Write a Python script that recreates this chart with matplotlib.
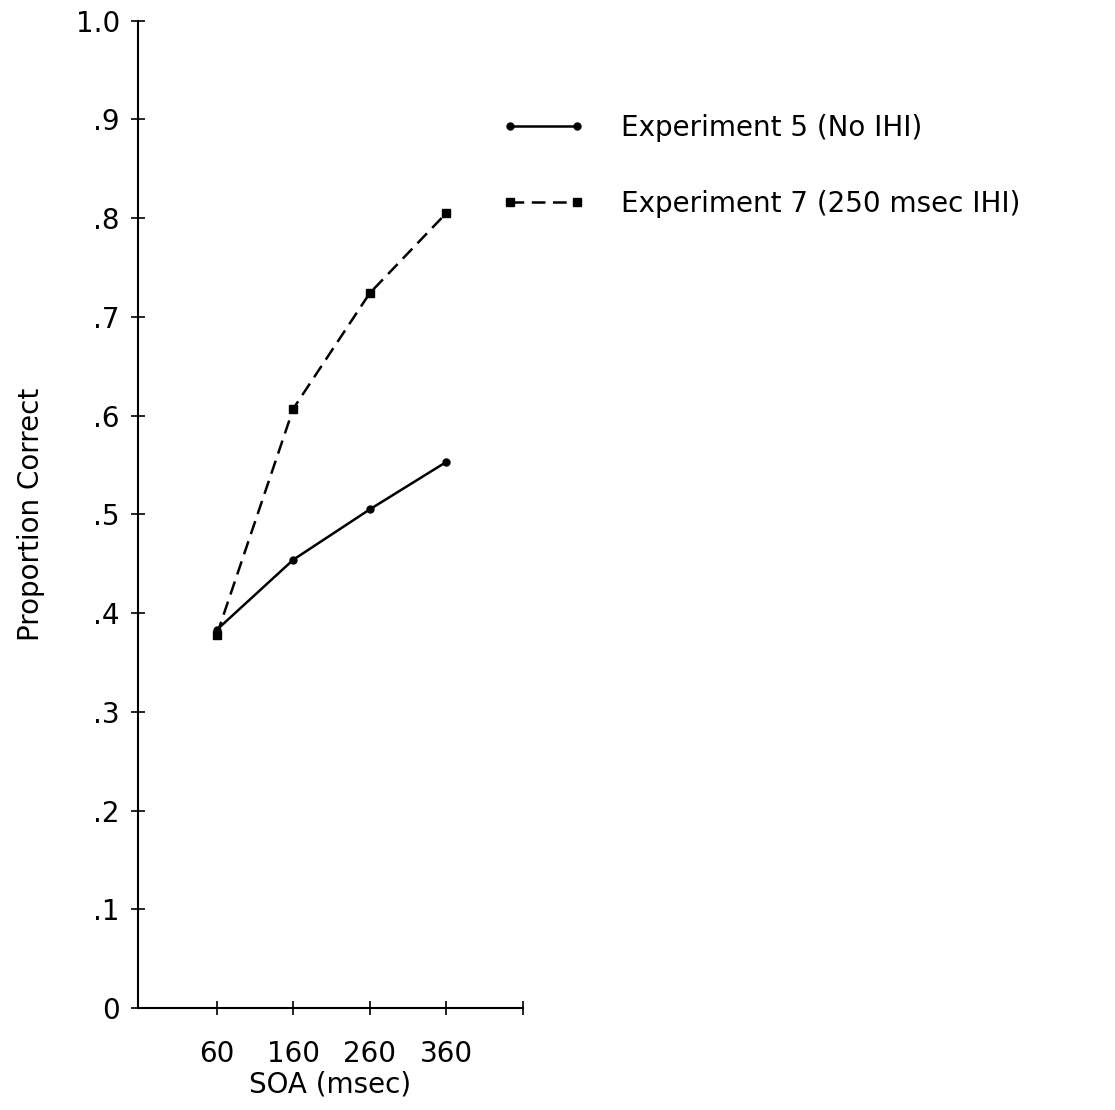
import matplotlib.pyplot as plt

# data
soa = [60, 160, 260, 360]
exp5 = [0.383, 0.454, 0.505, 0.553]
exp7 = [0.378, 0.607, 0.724, 0.805]
yticks = [0, .1, .2, .3, .4, .5, .6, .7, .8, .9, 1.0]
ylabels = ['0', '.1', '.2', '.3', '.4', '.5', '.6', '.7', '.8', '.9', '1.0']
xticks = [60, 160, 260, 360, 460]
xlabels = ['60', '160', '260', '360', '']

plt.rcParams['font.family'] = 'DejaVu Sans'
fs = 20

fig = plt.figure(figsize=(11.15, 11.1), dpi=100)
ax = fig.add_axes([0.1238, 0.0919, 0.3450, 0.8895])

l5, = ax.plot(soa, exp5, color='k', lw=1.8, marker='o', ms=5,
              label='Experiment 5 (No IHI)')
l7, = ax.plot(soa, exp7, color='k', lw=1.8, marker='s', ms=6,
              dashes=(5.5, 3), label='Experiment 7 (250 msec IHI)')

ax.set_xlim(-43, 460)
ax.set_ylim(0, 1.0)
ax.set_xticks(xticks)
ax.set_xticklabels(xlabels)
ax.set_yticks(yticks)
ax.set_yticklabels(ylabels)
ax.spines['top'].set_visible(False)
ax.spines['right'].set_visible(False)
ax.spines['left'].set_linewidth(1.5)
ax.spines['bottom'].set_linewidth(1.5)
ax.tick_params(direction='inout', length=10, width=1.2, labelsize=fs, pad=8)
ax.tick_params(axis='x', pad=18)
ax.set_xlabel('SOA (msec)', fontsize=fs, labelpad=2)
ax.set_ylabel('Proportion Correct', fontsize=fs, labelpad=22)

fig.legend(handles=[l5, l7], loc='upper left', bbox_to_anchor=(0.4375, 0.910),
           frameon=False, fontsize=fs, numpoints=2, handlelength=3.0,
           handletextpad=1.3, labelspacing=1.73, borderpad=0)

fig.savefig('out.png', dpi=100)
